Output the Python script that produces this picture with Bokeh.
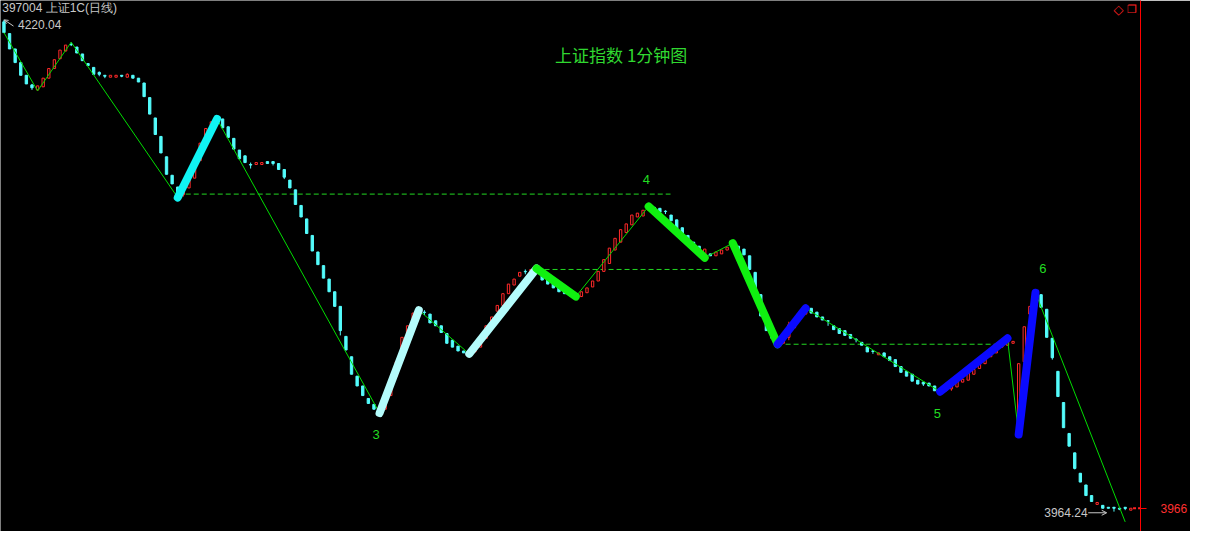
from bokeh.plotting import figure
from bokeh.models import Range1d, LinearAxis, FixedTicker, Label, Arrow, OpenHead, ColumnDataSource
from bokeh.embed import file_html
from bokeh.resources import INLINE

# ---- data (1-minute bars, Shanghai Composite) ----
opens = [4219.0, 4212.9, 4204.9, 4197.8, 4191.2, 4186.2, 4183.6, 4185.2, 4189.7, 4194.7,
         4199.8, 4203.8, 4207.4, 4205.9, 4202.3, 4197.3, 4195.3, 4192.7, 4191.2, 4190.2,
         4190.2, 4191.2, 4190.2, 4191.2, 4189.7, 4187.2, 4179.6, 4169.0, 4159.4, 4148.8,
         4139.2, 4133.1, 4129.1, 4132.6, 4137.7, 4146.8, 4155.9, 4162.9, 4168.5, 4168.5,
         4164.4, 4158.4, 4152.3, 4149.3, 4144.8, 4144.8, 4144.8, 4146.3, 4146.3, 4145.3,
         4142.2, 4136.7, 4131.6, 4123.5, 4116.5, 4107.9, 4099.3, 4092.2, 4085.2, 4078.6,
         4071.0, 4055.4, 4044.8, 4034.7, 4029.6, 4023.1, 4020.0, 4018.0, 4017.5, 4024.6,
         4034.7, 4044.8, 4055.9, 4064.5, 4067.5, 4068.0, 4067.0, 4063.5, 4060.9, 4056.9,
         4053.4, 4050.3, 4047.8, 4047.3, 4047.3, 4049.8, 4054.4, 4061.9, 4068.5, 4071.5,
         4077.6, 4082.1, 4086.7, 4089.2, 4088.7, 4089.7, 4088.2, 4085.7, 4083.7, 4081.1,
         4079.6, 4078.6, 4077.1, 4076.1, 4078.1, 4081.1, 4084.2, 4089.2, 4093.3, 4100.3,
         4104.4, 4109.4, 4113.4, 4117.5, 4118.0, 4121.0, 4122.5, 4122.0, 4120.5, 4118.5,
         4116.0, 4111.9, 4107.9, 4104.4, 4102.3, 4098.3, 4098.3, 4097.3, 4098.3, 4100.3,
         4101.8, 4102.3, 4100.8, 4097.3, 4088.7, 4077.1, 4063.5, 4056.9, 4054.4, 4051.8,
         4054.9, 4059.9, 4064.5, 4067.0, 4070.0, 4068.0, 4065.5, 4063.5, 4060.9, 4059.4,
         4058.4, 4056.4, 4053.9, 4052.3, 4049.8, 4047.8, 4045.8, 4046.8, 4044.8, 4043.3,
         4039.7, 4037.2, 4035.7, 4032.6, 4031.6, 4031.1, 4029.6, 4028.1, 4027.1, 4028.1,
         4029.1, 4031.6, 4032.6, 4035.7, 4038.7, 4041.2, 4044.8, 4046.8, 4049.8, 4050.8,
         4051.8, 4013.0, 4042.2, 4067.0, 4071.0, 4077.1, 4069.5, 4054.4, 4037.2, 4021.0,
         4004.9, 3994.8, 3984.2, 3978.1, 3972.6, 3968.0, 3967.5, 3966.5, 3966.5, 3966.0,
         3966.5, 3965.0]
highs = [4220.04, 4212.9, 4204.9, 4197.8, 4191.2, 4186.7, 4185.7, 4189.7, 4194.7, 4199.3,
         4204.3, 4206.9, 4208.4, 4205.9, 4202.3, 4197.3, 4195.3, 4193.2, 4191.2, 4191.2,
         4191.2, 4191.2, 4192.2, 4191.2, 4189.7, 4187.2, 4179.6, 4169.0, 4159.4, 4148.8,
         4139.2, 4133.1, 4132.6, 4137.7, 4145.3, 4155.9, 4163.5, 4167.0, 4168.5, 4168.5,
         4164.4, 4158.4, 4152.3, 4149.3, 4145.8, 4145.8, 4145.8, 4146.3, 4146.3, 4145.3,
         4142.2, 4136.7, 4131.6, 4123.5, 4116.5, 4107.9, 4099.3, 4092.2, 4085.2, 4078.6,
         4071.0, 4055.4, 4044.8, 4034.7, 4029.6, 4023.1, 4020.0, 4018.0, 4022.0, 4029.6,
         4042.2, 4054.9, 4060.9, 4067.5, 4069.0, 4069.0, 4067.0, 4063.5, 4060.9, 4056.9,
         4053.4, 4050.3, 4047.8, 4047.3, 4048.8, 4053.4, 4060.9, 4065.5, 4071.5, 4077.6,
         4082.6, 4085.2, 4088.7, 4090.2, 4090.2, 4090.7, 4088.2, 4085.7, 4083.7, 4081.1,
         4079.6, 4078.6, 4077.1, 4078.6, 4080.6, 4084.2, 4089.2, 4095.3, 4101.3, 4106.4,
         4110.9, 4113.9, 4118.5, 4119.5, 4121.0, 4123.0, 4122.5, 4122.0, 4121.0, 4118.5,
         4116.0, 4111.9, 4107.9, 4104.4, 4102.3, 4100.8, 4098.3, 4099.3, 4100.3, 4101.8,
         4103.9, 4102.3, 4100.8, 4097.3, 4088.7, 4077.1, 4063.5, 4056.9, 4054.4, 4054.9,
         4063.0, 4063.5, 4067.0, 4070.0, 4070.0, 4068.0, 4065.5, 4063.9, 4060.9, 4059.4,
         4058.4, 4056.4, 4054.4, 4052.3, 4049.8, 4048.3, 4046.8, 4046.8, 4044.8, 4043.3,
         4039.7, 4037.2, 4035.7, 4032.6, 4031.6, 4031.1, 4029.6, 4028.1, 4028.6, 4029.6,
         4032.1, 4033.1, 4036.2, 4038.2, 4041.2, 4043.8, 4046.8, 4048.8, 4050.8, 4054.4,
         4052.8, 4041.2, 4060.4, 4071.0, 4078.1, 4077.1, 4069.5, 4054.4, 4037.2, 4021.0,
         4004.9, 3994.8, 3984.2, 3978.1, 3972.6, 3969.0, 3967.5, 3966.5, 3966.5, 3966.3,
         3966.5, 3966.0]
lows = [4213.4, 4204.9, 4197.8, 4191.2, 4186.7, 4183.6, 4183.1, 4185.2, 4189.7, 4194.7,
        4199.8, 4203.8, 4206.4, 4202.8, 4198.8, 4196.3, 4191.7, 4190.7, 4189.7, 4190.2,
        4190.2, 4190.2, 4190.2, 4189.7, 4187.7, 4180.1, 4171.0, 4160.4, 4150.8, 4139.7,
        4134.7, 4127.6, 4128.1, 4132.6, 4137.7, 4146.8, 4155.9, 4162.9, 4167.5, 4163.9,
        4158.9, 4152.8, 4147.8, 4145.8, 4142.7, 4144.8, 4144.8, 4145.3, 4144.3, 4142.2,
        4137.2, 4132.6, 4124.0, 4117.5, 4108.9, 4099.8, 4092.7, 4085.7, 4078.6, 4071.0,
        4055.9, 4048.3, 4035.7, 4029.6, 4024.6, 4020.5, 4017.5, 4015.5, 4017.5, 4024.6,
        4034.7, 4044.8, 4055.9, 4064.5, 4067.5, 4066.5, 4062.4, 4060.9, 4057.4, 4051.8,
        4049.8, 4047.8, 4046.8, 4046.3, 4047.3, 4049.8, 4054.4, 4061.9, 4068.5, 4071.5,
        4077.6, 4082.1, 4086.7, 4087.7, 4088.7, 4089.7, 4084.7, 4082.6, 4080.6, 4078.6,
        4077.6, 4076.6, 4076.1, 4076.1, 4078.1, 4081.1, 4084.2, 4089.2, 4093.3, 4100.3,
        4104.4, 4109.4, 4113.4, 4117.5, 4118.0, 4121.0, 4121.0, 4120.0, 4119.0, 4115.5,
        4111.4, 4107.9, 4105.4, 4102.3, 4099.8, 4096.3, 4097.3, 4097.3, 4098.3, 4100.3,
        4101.8, 4100.3, 4097.8, 4090.2, 4080.1, 4066.0, 4058.4, 4054.4, 4051.3, 4051.8,
        4053.4, 4059.9, 4064.5, 4067.0, 4067.5, 4065.5, 4063.9, 4060.9, 4058.9, 4056.9,
        4055.9, 4054.4, 4052.3, 4050.8, 4047.3, 4046.3, 4045.8, 4044.8, 4042.8, 4039.7,
        4036.7, 4034.7, 4032.1, 4030.6, 4029.6, 4029.6, 4027.1, 4026.6, 4027.1, 4027.1,
        4029.1, 4031.6, 4032.6, 4035.7, 4038.7, 4041.2, 4044.8, 4046.8, 4049.8, 4050.8,
        4051.8, 4004.4, 4042.2, 4067.0, 4071.0, 4070.5, 4054.9, 4043.3, 4024.1, 4007.9,
        3998.3, 3986.2, 3979.6, 3972.6, 3969.5, 3968.0, 3966.0, 3966.0, 3964.24, 3965.0,
        3965.0, 3965.0]
closes = [4213.4, 4204.9, 4197.8, 4191.2, 4186.7, 4184.7, 4185.7, 4189.7, 4194.7, 4199.3,
          4204.3, 4206.9, 4207.1, 4202.8, 4198.8, 4196.3, 4191.7, 4191.7, 4190.7, 4191.2,
          4191.2, 4190.7, 4191.7, 4189.7, 4187.7, 4180.1, 4171.0, 4160.4, 4150.8, 4139.7,
          4134.7, 4129.1, 4132.6, 4137.7, 4145.3, 4155.9, 4163.5, 4167.0, 4167.5, 4163.9,
          4158.9, 4152.8, 4147.8, 4145.8, 4144.5, 4145.8, 4145.8, 4145.3, 4145.3, 4142.2,
          4138.2, 4132.6, 4124.0, 4117.5, 4108.9, 4099.8, 4092.7, 4085.7, 4078.6, 4071.0,
          4058.4, 4048.3, 4035.7, 4029.6, 4024.6, 4020.5, 4017.5, 4016.5, 4022.0, 4029.6,
          4042.2, 4054.9, 4060.9, 4067.5, 4068.5, 4067.8, 4062.4, 4060.9, 4057.4, 4051.8,
          4049.8, 4047.8, 4046.8, 4046.3, 4048.8, 4053.4, 4060.9, 4065.5, 4071.5, 4077.6,
          4082.6, 4085.2, 4088.7, 4089.0, 4090.2, 4090.7, 4084.7, 4082.6, 4080.6, 4078.6,
          4077.6, 4076.6, 4076.1, 4078.6, 4080.6, 4084.2, 4089.2, 4095.3, 4101.3, 4106.4,
          4110.9, 4113.9, 4118.5, 4119.5, 4121.0, 4122.5, 4121.0, 4120.0, 4120.3, 4115.5,
          4111.4, 4107.9, 4105.4, 4102.3, 4099.8, 4100.8, 4097.3, 4099.3, 4100.3, 4101.8,
          4103.4, 4100.3, 4097.8, 4090.2, 4080.1, 4066.0, 4058.4, 4054.4, 4052.3, 4054.9,
          4061.4, 4063.5, 4067.0, 4069.5, 4067.5, 4065.5, 4063.9, 4063.3, 4058.9, 4056.9,
          4055.9, 4054.4, 4053.7, 4050.8, 4047.3, 4047.6, 4046.8, 4044.8, 4042.8, 4039.7,
          4036.7, 4034.7, 4032.1, 4030.6, 4030.6, 4029.6, 4027.1, 4027.1, 4028.6, 4029.6,
          4032.1, 4033.1, 4036.2, 4038.2, 4041.2, 4043.8, 4046.8, 4048.8, 4050.8, 4053.9,
          4052.8, 4041.2, 4060.4, 4071.0, 4077.6, 4070.5, 4054.9, 4044.3, 4024.1, 4007.9,
          3998.3, 3986.7, 3979.6, 3972.6, 3969.5, 3969.0, 3966.0, 3966.0, 3966.0, 3965.5,
          3965.9, 3966.0]

# zigzag swing points (bar index, price)
zz_idx = [0, 6, 12, 31, 38, 67, 74, 83, 95, 102, 115, 125, 130, 138, 143, 167, 179, 181, 184, 200]
zz_val = [4213.4, 4183.1, 4208.4, 4127.6, 4168.5, 4015.5, 4069.0, 4046.3, 4090.7, 4076.1,
          4123.0, 4096.3, 4103.9, 4051.3, 4070.0, 4026.6, 4054.4, 4004.4, 4078.1, 3958.9]
# highlighted legs: start position in the zigzag list, and leg type
leg_start = [3, 5, 7, 8, 10, 12, 13, 15, 17]
leg_type = ["up1", "up2", "up2", "dn", "dn", "dn", "bl", "bl", "bl"]

# support / resistance levels: price, from bar, to bar
lvl_price = [4129.4, 4090.2, 4051.3]
lvl_from = [31, 95, 138]
lvl_to = [118.9, 127.7, 179]

# wave labels
wave_text = ["3", "4", "5", "6"]
wave_x = [66.4, 114.6, 166.5, 185.3]
wave_y = [4004.4, 4137.2, 4015.5, 4090.7]

hi_val = 4220.04
lo_val = 3964.24

# ---- figure ----
N = len(closes)
p = figure(width=1190, height=531, x_range=Range1d(-0.615, 202.73), y_range=Range1d(3953.9, 4230.1),
           output_backend="svg", toolbar_location=None,
           x_axis_location=None, y_axis_location=None,
           background_fill_color="black", border_fill_color="black",
           min_border_left=0, min_border_top=0, min_border_bottom=0, min_border_right=48)
p.grid.visible = False
p.outline_line_color = None

CYAN = "#54fcfc"
RED = "#ff2a2a"
GREEN = "#00dd00"

# levels (under candles)
p.segment(x0=lvl_from, x1=lvl_to, y0=lvl_price, y1=lvl_price, line_color="#22d822",
          line_width=1, line_dash="5 3")

def cols(sel):
    ii = [i for i in range(N) if sel(i)]
    return dict(x=ii,
                top=[max(opens[i], closes[i]) for i in ii],
                bottom=[min(opens[i], closes[i]) for i in ii],
                high=[highs[i] for i in ii],
                low=[lows[i] for i in ii])

up_src = ColumnDataSource(cols(lambda i: closes[i] > opens[i]))
dn_src = ColumnDataSource(cols(lambda i: closes[i] <= opens[i]))

p.segment(x0="x", x1="x", y0="high", y1="low", source=dn_src, line_color=CYAN, line_width=1)
p.vbar(x="x", top="top", bottom="bottom", width=0.42, source=dn_src, fill_color=CYAN, line_color=CYAN, line_width=1)
p.segment(x0="x", x1="x", y0="high", y1="low", source=up_src, line_color=RED, line_width=1)
p.vbar(x="x", top="top", bottom="bottom", width=0.42, source=up_src, fill_color="black", line_color=RED, line_width=1)

# thin zigzag
p.line(zz_idx, zz_val, line_color=GREEN, line_width=1)

leg_color = {"up1": "#10f4f4", "up2": "#b4fcfc", "dn": "#10f010", "bl": "#0a0aff"}
for s, t in zip(leg_start, leg_type):
    p.line(zz_idx[s:s + 2], zz_val[s:s + 2], line_color=leg_color[t], line_width=8, line_cap="round")

# current price
p.segment(x0=[N - 1 + 0.4], x1=[202.73], y0=[closes[-1]], y1=[closes[-1]], line_color="#ff2020",
          line_width=2, line_dash="3 2")

# right price axis
ax = LinearAxis(ticker=FixedTicker(ticks=[closes[-1]]), axis_line_color="#ff0000", axis_line_width=1,
                major_tick_line_color="#ff0000", major_tick_out=6, major_tick_in=0,
                minor_tick_line_color=None, major_label_text_color="#ff3030",
                major_label_text_font_size="12px", major_label_text_font="Liberation Sans",
                major_label_standoff=14)
p.add_layout(ax, "right")

# texts
for t, x, y in zip(wave_text, wave_x, wave_y):
    p.add_layout(Label(x=x, y=y, text=t, text_align="center", text_baseline="middle",
                       text_color="#22dd22", text_font_size="13px", text_font="Liberation Sans"))

p.add_layout(Label(x=110.1, y=4201.8, text="上证指数 1分钟图", text_align="center", text_baseline="middle",
                   text_color="#30d830", text_font_size="17px", text_font="Noto Sans CJK SC"))
p.add_layout(Label(x=-0.3, y=4226.1, text="397004 上证1C(日线)", text_align="left", text_baseline="middle",
                   text_color="#c8c8c8", text_font_size="12px", text_font="Liberation Sans"))
p.add_layout(Label(x=2.5, y=4217.6, text=f"{hi_val:.2f}", text_align="left", text_baseline="middle",
                   text_color="#c8c8c8", text_font_size="12px", text_font="Liberation Sans"))
p.add_layout(Arrow(x_start=1.7, y_start=4216.8, x_end=0.05, y_end=hi_val,
                   line_color="#c8c8c8", line_width=1, end=OpenHead(size=4, line_color="#c8c8c8", line_width=1)))
p.add_layout(Label(x=193.3, y=lo_val - 0.6, text=f"{lo_val:.2f}", text_align="right", text_baseline="middle",
                   text_color="#c8c8c8", text_font_size="12px", text_font="Liberation Sans"))
p.add_layout(Arrow(x_start=193.4, y_start=lo_val - 0.6, x_end=196.7, y_end=lo_val - 0.6,
                   line_color="#c8c8c8", line_width=1, end=OpenHead(size=5, line_color="#c8c8c8", line_width=1)))

# window icons
p.add_layout(Label(x=198.8, y=4225.3, text="◇", text_align="center", text_baseline="middle",
                   text_color="#ff2020", text_font_size="13px", text_font="DejaVu Sans"))
p.add_layout(Label(x=201.2, y=4225.3, text="❐", text_align="center", text_baseline="middle",
                   text_color="#ff2020", text_font_size="11px", text_font="DejaVu Sans"))

open("out.html", "w").write(file_html(p, INLINE))
